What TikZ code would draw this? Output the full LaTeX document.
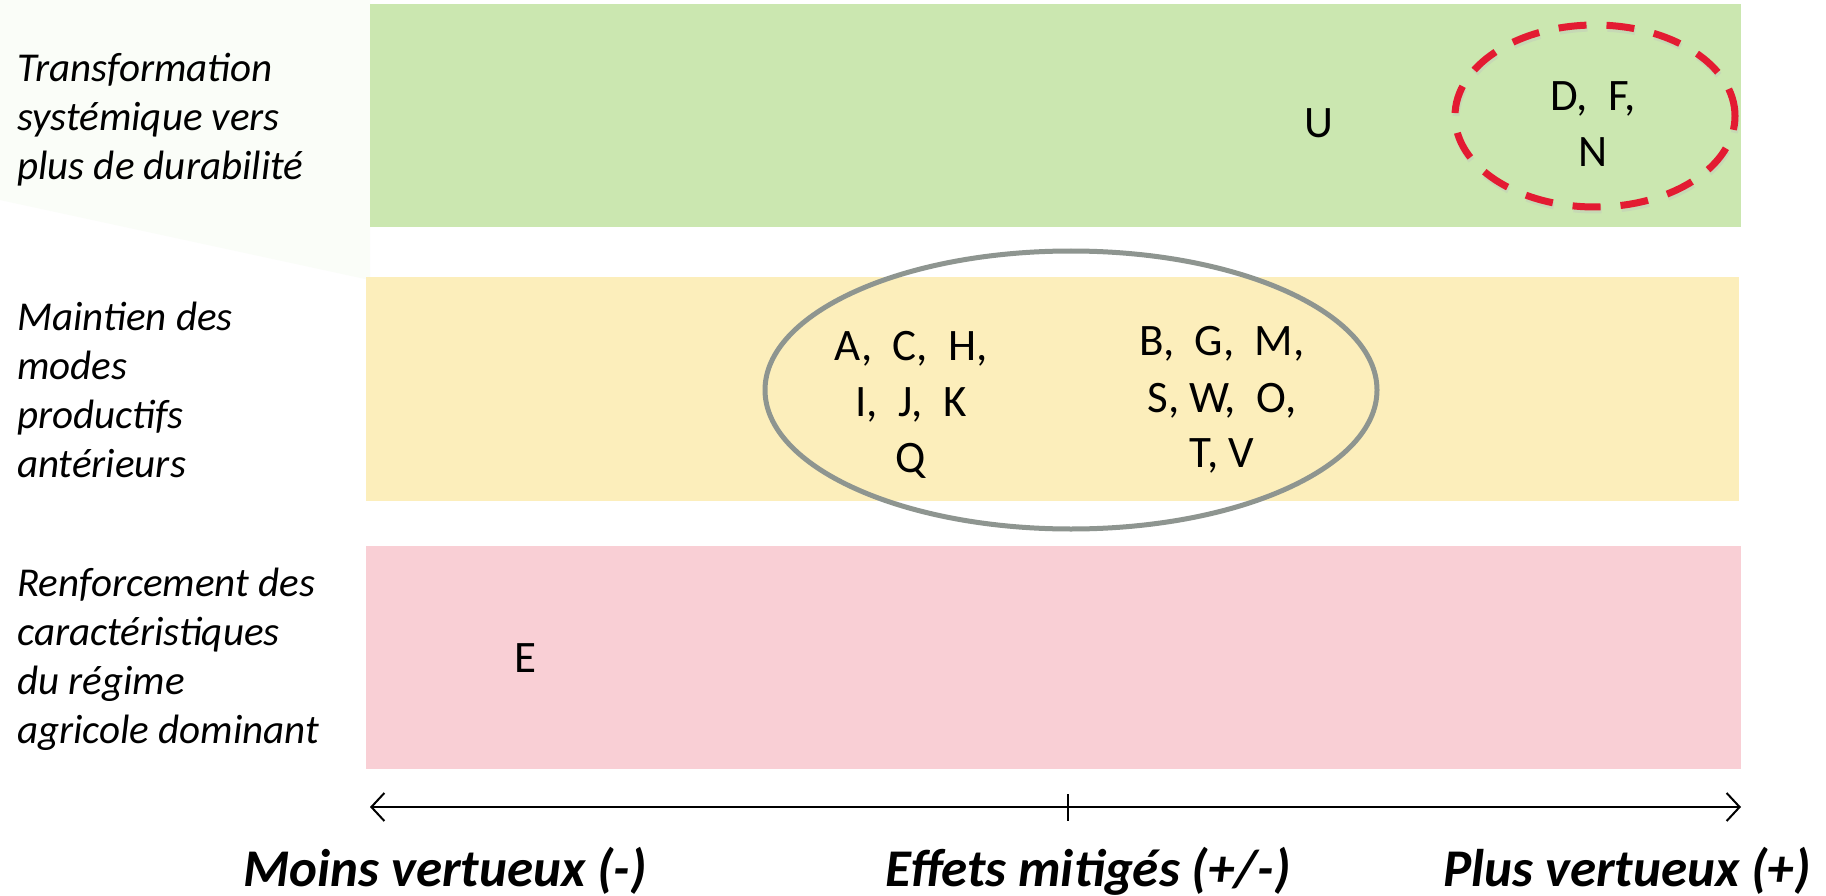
\documentclass[tikz,border=0pt]{standalone}
\usepackage{fontspec}
\setmainfont{Carlito}
\usetikzlibrary{arrows.meta,shapes.geometric}

\definecolor{bandgreen}{HTML}{CBE7B0}
\definecolor{bandyellow}{HTML}{FCEEBB}
\definecolor{bandpink}{HTML}{F9CFD5}
\definecolor{ringgrey}{HTML}{8E9590}
\definecolor{ringred}{HTML}{E31B32}
\definecolor{haze}{HTML}{FAFDF8}

\tikzset{
  rowlabel/.style={anchor=base west, inner sep=0pt,
    font=\fontsize{41pt}{49pt}\selectfont\itshape},
  codes/.style={anchor=base, inner sep=0pt, align=center,
    font=\fontsize{45pt}{57pt}\selectfont},
  axislabel/.style={anchor=base, inner sep=0pt,
    font=\fontsize{53pt}{60pt}\selectfont\bfseries\itshape},
  band/.style={draw=none, inner sep=0pt, outer sep=0pt, anchor=north west},
}

\begin{document}
\begin{tikzpicture}[x=1pt, y=-1pt]
  % page
  \fill[white] (0,0) rectangle (1826,896);
  \useasboundingbox (0,0) rectangle (1826,896);
  % faint backdrop behind the row titles
  \fill[haze] (0,0) -- (370,0) -- (370,280) -- (0,200) -- cycle;

  % the three bands
  \node[band, fill=bandgreen, minimum width=1371pt, minimum height=223pt] (rowtop) at (370,4) {};
  \node[band, fill=bandyellow, minimum width=1373pt, minimum height=224pt] (rowmid) at (366,277) {};
  \node[band, fill=bandpink, minimum width=1375pt, minimum height=223pt] (rowbot) at (366,546) {};

  % row titles
  \node[rowlabel] (t1a) at (17,82) {Transformation};
  \node[rowlabel] (t1b) at (17,131) {systémique vers};
  \node[rowlabel] (t1c) at (17,180) {plus de durabilité};
  \node[rowlabel] (t2a) at (17,330) {Maintien des};
  \node[rowlabel] (t2b) at (17,379) {modes};
  \node[rowlabel] (t2c) at (17,428) {productifs};
  \node[rowlabel] (t2d) at (17,477) {antérieurs};
  \node[rowlabel] (t3a) at (17,596) {Renforcement des};
  \node[rowlabel] (t3b) at (17,645) {caractéristiques};
  \node[rowlabel] (t3c) at (17,694) {du régime};
  \node[rowlabel] (t3d) at (17,743) {agricole dominant};

  % grouping rings
  \node[ellipse, draw=ringgrey, line width=5pt, minimum width=612pt, minimum height=278pt, inner sep=0pt] (midring) at (1071,390) {};
  \node[ellipse, draw=black!25, line width=7pt, dash pattern=on 28pt off 20pt, minimum width=280pt, minimum height=182pt, inner sep=0pt, opacity=0.35] (topshadow) at (1596,119) {};
  \node[ellipse, draw=ringred, line width=7pt, dash pattern=on 28pt off 20pt, minimum width=280pt, minimum height=182pt, inner sep=0pt] (topring) at (1595,116) {};

  % cases
  \node[codes] (cU) at (1319,138) {U};
  \node[codes] (cDF) at (1593,111) {D,\ \ F,};
  \node[codes] (cN) at (1593,167) {N};
  \node[codes] (cACH) at (911,360) {A,\ \ C,\ \ H,};
  \node[codes] (cIJK) at (911,416) {I,\ \ J,\ \ K};
  \node[codes] (cQ) at (911,472) {Q};
  \node[codes] (cBGM) at (1222,355) {B,\ \ G,\ \ M,};
  \node[codes] (cSWO) at (1222,412) {S, W,\ \ O,};
  \node[codes] (cTV) at (1222,467) {T, V};
  \node[codes] (cE) at (525,672) {E};

  % horizontal scale
  \coordinate (axL) at (370,807);
  \coordinate (axR) at (1741,807);
  \coordinate (tkT) at (1068,794);
  \coordinate (tkB) at (1068,821);
  \draw[line width=2.5pt, {Straight Barb[length=13pt,width=28pt,line width=2pt]}-{Straight Barb[length=13pt,width=28pt,line width=2pt]}] (axL) -- (axR);
  \draw[line width=1.6pt] (tkT) -- (tkB);

  \node[axislabel] (lneg) at (445,886) {Moins vertueux (-)};
  \node[axislabel] (lmid) at (1088,886) {Effets mitigés (+/-)};
  \node[axislabel] (lpos) at (1627,886) {Plus vertueux (+)};
\end{tikzpicture}
\end{document}
